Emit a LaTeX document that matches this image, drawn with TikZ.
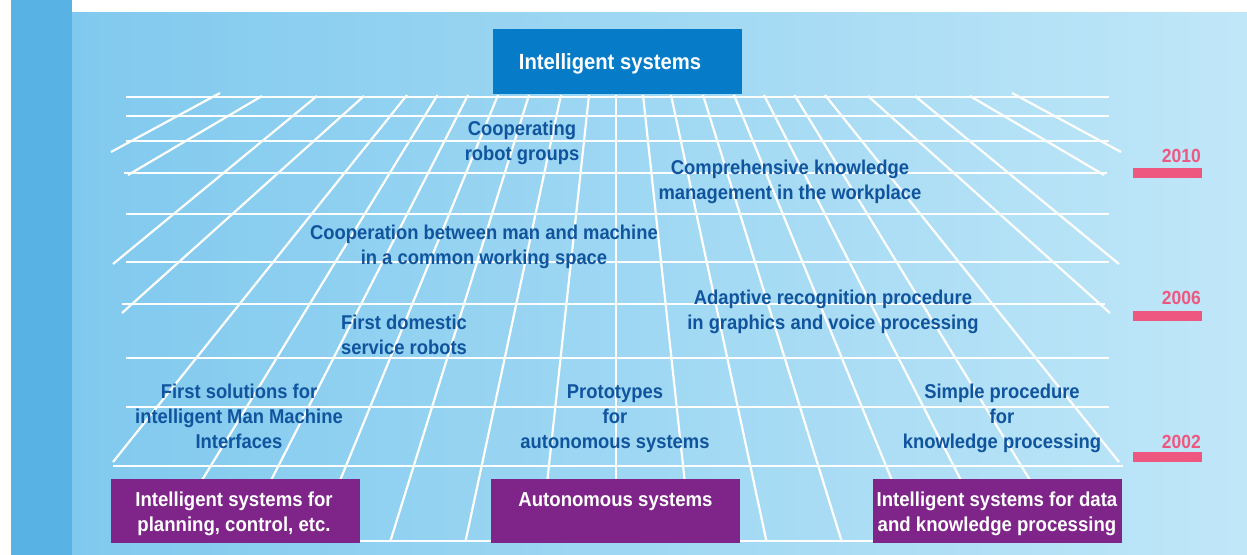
\documentclass[tikz,border=0pt]{standalone}
\usepackage{fontspec}
\setmainfont{Liberation Sans}[FakeStretch=0.92]
\definecolor{txtblue}{RGB}{16,84,158}
\definecolor{topblue}{RGB}{6,124,200}
\definecolor{catpurple}{RGB}{127,37,138}
\definecolor{yearpink}{RGB}{238,88,128}
\definecolor{stripblue}{RGB}{88,178,228}
\definecolor{skyA}{RGB}{128,201,238}
\definecolor{skyB}{RGB}{178,225,247}
\definecolor{skyC}{RGB}{192,231,248}
\begin{document}
\begin{tikzpicture}[x=1bp,y=-1bp,
  gridline/.style={white,line width=2.2bp},
  note/.style={text=txtblue,font=\bfseries\fontsize{20bp}{25bp}\selectfont,
    align=center,inner sep=0pt,anchor=base},
  topbox/.style={fill=topblue,minimum width=249bp,minimum height=65bp,
    inner sep=0pt,anchor=north west},
  catbox/.style={fill=catpurple,minimum width=249bp,minimum height=64bp,
    inner sep=0pt,anchor=north west},
  boxtext/.style={text=white,font=\bfseries\fontsize{20.2bp}{25.7bp}\selectfont,
    align=center,inner sep=0pt,anchor=base},
  year/.style={text=yearpink,font=\bfseries\fontsize{19bp}{22bp}\selectfont,
    inner sep=0pt,anchor=base east},
  yearbar/.style={fill=yearpink,minimum width=69bp,minimum height=10bp,
    inner sep=0pt,anchor=north west}
]
\useasboundingbox (0,0) rectangle (1247,555);

% page, side strip and sky background
\fill[white] (0,0) rectangle (1247,555);
\fill[stripblue] (11,0) rectangle (72,555);
\shade[left color=skyA,middle color=skyB,right color=skyC] (72,13) rectangle (1247,555);

% perspective grid: horizontal rails
\foreach \y/\a/\b in {97/126/1109,116/126/1109,141/126/1109,173/124/1107,
  214/126/1109,262/126/1109,304/122/1105,358/126/1109,407/126/1109,
  466/113/1123,541/126/1109}
  \draw[gridline] (\a,\y) -- (\b,\y);

% perspective grid: converging rays, mirrored about x = 616
\draw[gridline] (616,95) -- (616,541);
\foreach \xt/\xb in {589/540.8,561/465.6,529/390.4,498/315.2,468/240,437.5/164.8}{
  \draw[gridline] (\xt,95) -- (\xb,541);
  \draw[gridline] ({1232-\xt},95) -- ({1232-\xb},541);
}
\foreach \xa/\ya/\xb/\yb in {407/95/113/462,364/96/122/313,317/96/113/264,
  262/96/128/175,220/93/111/152}{
  \draw[gridline] (\xa,\ya) -- (\xb,\yb);
  \draw[gridline] ({1232-\xa},\ya) -- ({1232-\xb},\yb);
}

% goal at the top
\node[topbox] (goal) at (493,29) {};
\node[text=white,font=\bfseries\fontsize{22bp}{26bp}\selectfont,inner sep=0pt,
  anchor=base] (goaltext) at (610,70) {Intelligent systems};

% milestones on the grid (anchored at the baseline of the last line)
\node[note] (coop)   at (522,161) {Cooperating\\robot groups};
\node[note] (know)   at (790,200) {Comprehensive knowledge\\management in the workplace};
\node[note] (manmac) at (484,265) {Cooperation between man and machine\\in a common working space};
\node[note] (adapt)  at (833,330) {Adaptive recognition procedure\\in graphics and voice processing};
\node[note] (domest) at (404,355) {First domestic\\service robots};
\node[note] (mmi)    at (239,448) {First solutions for\\intelligent Man Machine\\Interfaces};
\node[note] (proto)  at (615,448) {Prototypes\\for\\autonomous systems};
\node[note] (simple) at (1002,448) {Simple procedure\\for\\knowledge processing};

% starting fields at the bottom
\node[catbox] (plan) at (111,479) {};
\node[catbox] (auto) at (491,479) {};
\node[catbox] (data) at (873,479) {};
\node[boxtext] (plantext) at (234,531.7) {Intelligent systems for\\planning, control, etc.};
\node[boxtext] (autotext) at (615.5,506) {Autonomous systems};
\node[boxtext] (datatext) at (997,531.7) {Intelligent systems for data\\and knowledge processing};

% time scale
\node[year] (y2010) at (1201,163) {2010};
\node[yearbar] (b2010) at (1133,168) {};
\node[year] (y2006) at (1201,305) {2006};
\node[yearbar] (b2006) at (1133,311) {};
\node[year] (y2002) at (1201,448) {2002};
\node[yearbar] (b2002) at (1133,452) {};
\end{tikzpicture}
\end{document}
